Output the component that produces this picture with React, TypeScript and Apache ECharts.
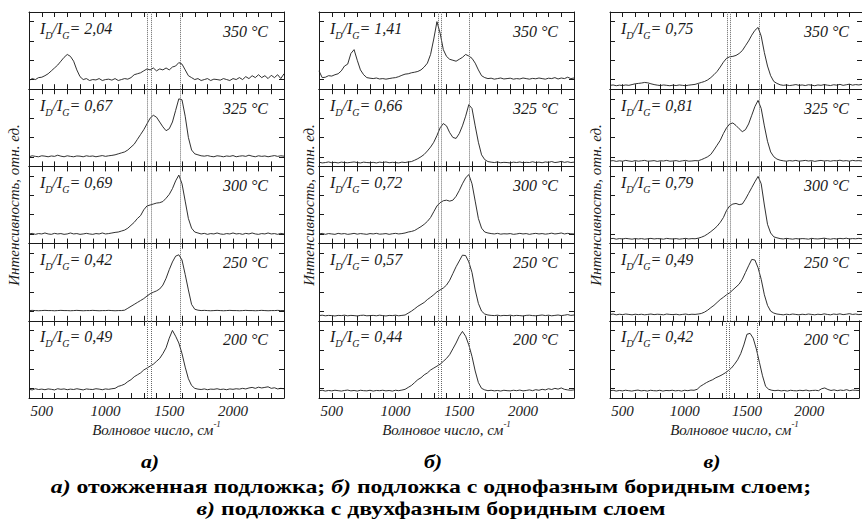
import React, { useEffect, useRef } from 'react';
import * as echarts from 'echarts';

// Raman shift grid, cm^-1
const wavenumbers = [
  400, 425, 450, 475, 500, 525, 550, 575, 600, 625,
  650, 675, 700, 725, 750, 775, 800, 825, 850, 875,
  900, 925, 950, 975, 1000, 1025, 1050, 1075, 1100, 1125,
  1150, 1175, 1200, 1225, 1250, 1275, 1300, 1325, 1350, 1375,
  1400, 1425, 1450, 1475, 1500, 1525, 1550, 1575, 1600, 1625,
  1650, 1675, 1700, 1725, 1750, 1775, 1800, 1825, 1850, 1875,
  1900, 1925, 1950, 1975, 2000, 2025, 2050, 2075, 2100, 2125,
  2150, 2175, 2200, 2225, 2250, 2275, 2300, 2325, 2350, 2375,
  2400,
];

// Column а) — annealed substrate
const a350 = [
  0.45, 0.55, 0.50, 0.60, 0.62, 0.70, 0.80, 0.95, 1.10, 1.25,
  1.45, 1.65, 1.80, 1.70, 1.45, 1.00, 0.65, 0.50, 0.55, 0.45,
  0.50, 0.48, 0.55, 0.45, 0.50, 0.52, 0.47, 0.55, 0.45, 0.50,
  0.55, 0.52, 0.60, 0.75, 0.80, 0.85, 0.95, 1.05, 1.00, 1.10,
  0.95, 1.05, 1.00, 1.10, 1.00, 1.15, 1.20, 1.38, 1.30, 1.00,
  0.70, 0.60, 0.50, 0.55, 0.45, 0.50, 0.55, 0.45, 0.52, 0.50,
  0.47, 0.55, 0.50, 0.45, 0.55, 0.50, 0.60, 0.50, 0.65, 0.55,
  0.70, 0.60, 0.75, 0.60, 0.70, 0.55, 0.72, 0.60, 0.75, 0.55,
  0.80,
];
const a325 = [
  0.50, 0.55, 0.52, 0.50, 0.55, 0.53, 0.50, 0.54, 0.52, 0.58,
  0.53, 0.50, 0.55, 0.52, 0.50, 0.54, 0.53, 0.50, 0.55, 0.52,
  0.54, 0.50, 0.53, 0.56, 0.52, 0.55, 0.57, 0.60, 0.65, 0.70,
  0.75, 0.85, 1.00, 1.15, 1.40, 1.65, 1.90, 2.20, 2.50, 2.65,
  2.55, 2.30, 2.05, 1.85, 1.95, 2.30, 2.90, 3.50, 3.45, 2.60,
  1.50, 0.85, 0.65, 0.60, 0.55, 0.53, 0.56, 0.52, 0.50, 0.55,
  0.53, 0.50, 0.54, 0.52, 0.56, 0.50, 0.53, 0.55, 0.52, 0.58,
  0.53, 0.50, 0.55, 0.52, 0.54, 0.50, 0.53, 0.56, 0.52, 0.55,
  0.53,
];
const a300 = [
  0.50, 0.53, 0.48, 0.52, 0.50, 0.55, 0.50, 0.48, 0.53, 0.50,
  0.52, 0.48, 0.50, 0.55, 0.50, 0.52, 0.48, 0.50, 0.53, 0.50,
  0.48, 0.52, 0.50, 0.55, 0.50, 0.52, 0.55, 0.58, 0.60, 0.65,
  0.70, 0.80, 0.95, 1.10, 1.30, 1.45, 1.75, 1.95, 2.00, 2.05,
  2.10, 2.12, 2.18, 2.35, 2.55, 2.85, 3.25, 3.55, 3.10, 2.20,
  1.30, 0.80, 0.60, 0.55, 0.50, 0.53, 0.48, 0.52, 0.50, 0.55,
  0.50, 0.48, 0.52, 0.50, 0.55, 0.50, 0.52, 0.48, 0.53, 0.50,
  0.55, 0.50, 0.48, 0.52, 0.50, 0.55, 0.50, 0.52, 0.48, 0.53,
  0.50,
];
const a250 = [
  0.53, 0.54, 0.53, 0.52, 0.53, 0.54, 0.53, 0.53, 0.52, 0.53,
  0.54, 0.53, 0.53, 0.52, 0.53, 0.54, 0.53, 0.52, 0.53, 0.53,
  0.54, 0.53, 0.52, 0.53, 0.53, 0.54, 0.53, 0.52, 0.53, 0.53,
  0.55, 0.65, 0.75, 0.85, 0.95, 1.05, 1.15, 1.28, 1.40, 1.48,
  1.55, 1.65, 1.85, 2.20, 2.65, 3.05, 3.35, 3.42, 3.15, 2.40,
  1.60, 0.85, 0.60, 0.55, 0.53, 0.54, 0.53, 0.52, 0.53, 0.54,
  0.53, 0.52, 0.53, 0.54, 0.53, 0.53, 0.52, 0.53, 0.54, 0.53,
  0.53, 0.52, 0.53, 0.54, 0.53, 0.52, 0.53, 0.53, 0.54, 0.53,
  0.53,
];
const a200 = [
  0.45, 0.42, 0.48, 0.44, 0.46, 0.43, 0.47, 0.45, 0.42, 0.48,
  0.45, 0.47, 0.43, 0.46, 0.44, 0.48, 0.45, 0.42, 0.47, 0.45,
  0.44, 0.48, 0.46, 0.43, 0.47, 0.45, 0.48, 0.50, 0.60, 0.65,
  0.72, 0.85, 0.95, 1.10, 1.20, 1.30, 1.45, 1.55, 1.65, 1.75,
  1.90, 2.05, 2.30, 2.60, 3.10, 3.50, 3.20, 2.85, 2.30, 1.60,
  1.00, 0.65, 0.50, 0.46, 0.44, 0.47, 0.43, 0.46, 0.45, 0.48,
  0.44, 0.46, 0.43, 0.47, 0.45, 0.48, 0.46, 0.50, 0.47, 0.52,
  0.55, 0.50, 0.56, 0.52, 0.55, 0.58, 0.50, 0.53, 0.47, 0.50,
  0.48,
];

// Column б) — single-phase boride layer
const b350 = [
  0.95, 0.60, 0.62, 0.70, 0.68, 0.75, 0.80, 0.95, 1.20, 1.30,
  1.85, 2.05, 1.50, 1.00, 0.75, 0.60, 0.57, 0.55, 0.58, 0.53,
  0.55, 0.52, 0.55, 0.58, 0.60, 0.65, 0.72, 0.78, 0.80, 0.85,
  0.88, 0.92, 1.00, 1.15, 1.35, 1.80, 2.60, 3.50, 2.90, 2.05,
  1.70, 1.55, 1.50, 1.45, 1.55, 1.65, 1.80, 1.72, 1.60, 1.35,
  1.00, 0.70, 0.60, 0.55, 0.57, 0.52, 0.55, 0.58, 0.53, 0.55,
  0.57, 0.52, 0.55, 0.53, 0.58, 0.55, 0.52, 0.56, 0.54, 0.58,
  0.55, 0.52, 0.57, 0.55, 0.60, 0.53, 0.58, 0.55, 0.62, 0.55,
  0.58,
];
const b325 = [
  0.22, 0.18, 0.20, 0.23, 0.19, 0.21, 0.18, 0.22, 0.20, 0.19,
  0.21, 0.23, 0.20, 0.18, 0.22, 0.20, 0.19, 0.21, 0.18, 0.22,
  0.20, 0.23, 0.19, 0.21, 0.20, 0.18, 0.22, 0.20, 0.23, 0.25,
  0.32, 0.40, 0.50, 0.62, 0.80, 1.00, 1.25, 1.60, 2.00, 2.22,
  2.10, 1.75, 1.50, 1.45, 1.70, 2.10, 2.60, 3.20, 3.00, 2.10,
  1.25, 0.60, 0.35, 0.25, 0.22, 0.20, 0.23, 0.19, 0.21, 0.20,
  0.18, 0.22, 0.20, 0.23, 0.19, 0.21, 0.20, 0.24, 0.20, 0.22,
  0.19, 0.23, 0.21, 0.25, 0.20, 0.22, 0.26, 0.21, 0.24, 0.20,
  0.22,
];
const b300 = [
  0.50, 0.53, 0.48, 0.52, 0.50, 0.48, 0.53, 0.50, 0.52, 0.48,
  0.50, 0.53, 0.49, 0.52, 0.50, 0.48, 0.52, 0.50, 0.53, 0.49,
  0.50, 0.52, 0.48, 0.51, 0.53, 0.50, 0.52, 0.55, 0.60, 0.63,
  0.68, 0.78, 0.88, 1.00, 1.15, 1.35, 1.65, 1.95, 2.12, 2.22,
  2.25, 2.20, 2.25, 2.45, 2.75, 3.10, 3.40, 3.58, 3.10, 2.20,
  1.30, 0.80, 0.60, 0.55, 0.52, 0.50, 0.53, 0.49, 0.51, 0.50,
  0.52, 0.48, 0.50, 0.53, 0.50, 0.52, 0.48, 0.51, 0.53, 0.50,
  0.52, 0.49, 0.51, 0.54, 0.50, 0.52, 0.55, 0.50, 0.53, 0.51,
  0.50,
];
const b250 = [
  0.27, 0.29, 0.26, 0.28, 0.27, 0.25, 0.28, 0.27, 0.29, 0.26,
  0.28, 0.27, 0.25, 0.28, 0.29, 0.26, 0.27, 0.28, 0.26, 0.29,
  0.27, 0.25, 0.28, 0.27, 0.29, 0.26, 0.28, 0.30, 0.40, 0.50,
  0.62, 0.75, 0.85, 0.95, 1.10, 1.22, 1.35, 1.50, 1.60, 1.70,
  1.85, 2.10, 2.45, 2.80, 3.10, 3.40, 3.38, 3.05, 2.50, 1.60,
  0.90, 0.50, 0.35, 0.30, 0.28, 0.27, 0.29, 0.26, 0.28, 0.27,
  0.29, 0.26, 0.28, 0.27, 0.25, 0.28, 0.29, 0.27, 0.26, 0.28,
  0.30, 0.27, 0.29, 0.26, 0.28, 0.30, 0.27, 0.29, 0.32, 0.28,
  0.30,
];
const b200 = [
  0.38, 0.40, 0.36, 0.39, 0.37, 0.40, 0.38, 0.36, 0.39, 0.41,
  0.37, 0.39, 0.36, 0.40, 0.38, 0.37, 0.40, 0.36, 0.39, 0.38,
  0.40, 0.37, 0.39, 0.36, 0.40, 0.38, 0.41, 0.45, 0.55, 0.65,
  0.80, 0.95, 1.05, 1.20, 1.30, 1.45, 1.55, 1.65, 1.75, 1.90,
  2.05, 2.25, 2.55, 2.85, 3.20, 3.45, 3.20, 2.75, 2.15, 1.40,
  0.80, 0.50, 0.42, 0.38, 0.40, 0.37, 0.39, 0.36, 0.40, 0.38,
  0.37, 0.40, 0.38, 0.41, 0.37, 0.39, 0.42, 0.38, 0.43, 0.40,
  0.45, 0.42, 0.48, 0.44, 0.50, 0.46, 0.52, 0.45, 0.42, 0.40,
  0.42,
];

// Column в) — two-phase boride layer
const c350 = [
  0.20, 0.22, 0.18, 0.21, 0.19, 0.22, 0.20, 0.24, 0.28, 0.30,
  0.32, 0.35, 0.33, 0.28, 0.24, 0.21, 0.19, 0.22, 0.20, 0.18,
  0.21, 0.19, 0.22, 0.20, 0.18, 0.21, 0.23, 0.25, 0.30, 0.35,
  0.40, 0.48, 0.60, 0.75, 0.92, 1.15, 1.40, 1.60, 1.68, 1.70,
  1.75, 1.85, 2.00, 2.25, 2.50, 2.80, 3.05, 3.20, 2.75, 1.90,
  1.20, 0.70, 0.40, 0.30, 0.23, 0.20, 0.22, 0.19, 0.21, 0.24,
  0.20, 0.22, 0.19, 0.23, 0.21, 0.18, 0.22, 0.20, 0.24, 0.21,
  0.19, 0.23, 0.21, 0.25, 0.20, 0.23, 0.26, 0.21, 0.24, 0.22,
  0.25,
];
const c325 = [
  0.28, 0.30, 0.26, 0.29, 0.27, 0.31, 0.28, 0.26, 0.30, 0.27,
  0.29, 0.31, 0.27, 0.28, 0.30, 0.26, 0.29, 0.28, 0.31, 0.27,
  0.28, 0.30, 0.26, 0.29, 0.31, 0.27, 0.28, 0.30, 0.29, 0.35,
  0.42, 0.50, 0.62, 0.85, 1.10, 1.35, 1.70, 2.00, 2.20, 2.25,
  2.12, 1.95, 1.80, 1.90, 2.20, 2.65, 3.10, 3.42, 3.00, 2.10,
  1.30, 0.75, 0.50, 0.38, 0.32, 0.29, 0.27, 0.30, 0.28, 0.31,
  0.27, 0.29, 0.31, 0.28, 0.30, 0.26, 0.29, 0.31, 0.28, 0.30,
  0.27, 0.30, 0.29, 0.32, 0.28, 0.30, 0.27, 0.31, 0.29, 0.30,
  0.28,
];
const c300 = [
  0.25, 0.27, 0.23, 0.26, 0.24, 0.27, 0.25, 0.23, 0.26, 0.24,
  0.26, 0.23, 0.25, 0.27, 0.24, 0.26, 0.25, 0.23, 0.27, 0.25,
  0.24, 0.26, 0.23, 0.25, 0.27, 0.24, 0.26, 0.25, 0.28, 0.33,
  0.40, 0.50, 0.62, 0.75, 0.90, 1.10, 1.35, 1.72, 1.95, 2.05,
  2.08, 2.02, 2.05, 2.30, 2.60, 2.90, 3.20, 3.48, 3.10, 2.00,
  1.00, 0.55, 0.35, 0.30, 0.26, 0.24, 0.27, 0.25, 0.23, 0.26,
  0.24, 0.26, 0.25, 0.23, 0.27, 0.25, 0.24, 0.26, 0.28, 0.25,
  0.23, 0.26, 0.24, 0.27, 0.25, 0.28, 0.24, 0.26, 0.25, 0.27,
  0.25,
];
const c250 = [
  0.33, 0.35, 0.31, 0.34, 0.32, 0.35, 0.33, 0.31, 0.34, 0.32,
  0.34, 0.31, 0.33, 0.35, 0.32, 0.34, 0.33, 0.31, 0.35, 0.33,
  0.32, 0.34, 0.31, 0.33, 0.35, 0.32, 0.34, 0.33, 0.35, 0.38,
  0.45, 0.55, 0.68, 0.80, 0.95, 1.10, 1.22, 1.35, 1.45, 1.60,
  1.75, 1.90, 2.15, 2.50, 2.85, 3.18, 3.15, 2.75, 2.15, 1.35,
  0.80, 0.50, 0.40, 0.35, 0.33, 0.31, 0.34, 0.32, 0.35, 0.33,
  0.31, 0.34, 0.32, 0.35, 0.33, 0.31, 0.34, 0.32, 0.36, 0.33,
  0.31, 0.35, 0.33, 0.36, 0.32, 0.34, 0.37, 0.33, 0.35, 0.32,
  0.34,
];
const c200 = [
  0.38, 0.40, 0.36, 0.39, 0.37, 0.40, 0.38, 0.36, 0.39, 0.41,
  0.37, 0.39, 0.36, 0.40, 0.38, 0.37, 0.40, 0.36, 0.39, 0.38,
  0.40, 0.37, 0.39, 0.36, 0.40, 0.38, 0.41, 0.40, 0.45, 0.60,
  0.70, 0.80, 0.88, 0.95, 1.05, 1.12, 1.20, 1.30, 1.42, 1.55,
  1.75, 1.98, 2.30, 2.75, 3.30, 3.35, 3.10, 2.55, 1.85, 1.15,
  0.60, 0.45, 0.40, 0.38, 0.40, 0.37, 0.39, 0.36, 0.40, 0.38,
  0.37, 0.40, 0.38, 0.41, 0.37, 0.39, 0.40, 0.38, 0.48, 0.52,
  0.44, 0.39, 0.42, 0.38, 0.41, 0.39, 0.43, 0.38, 0.41, 0.40,
  0.39,
];

const temperatures = ['350 °C', '325 °C', '300 °C', '250 °C', '200 °C'];
const ratiosA = ['2,04', '0,67', '0,69', '0,42', '0,49'];
const ratiosB = ['1,41', '0,66', '0,72', '0,57', '0,44'];
const ratiosC = ['0,75', '0,81', '0,79', '0,49', '0,42'];
// D and G reference positions (vertical dotted lines), cm^-1
const linesA = [1325, 1355, 1585];
const linesB = [1338, 1360, 1578];
const linesC = [1333, 1358, 1582];
const xTickLabels = [500, 1000, 1500, 2000];
const yTickValues = [0.5, 1.5, 2.5, 3.5];
const panelLabels = ['а)', 'б)', 'в)'];

const columns = [
  { series: [a350, a325, a300, a250, a200], ratios: ratiosA, lines: linesA },
  { series: [b350, b325, b300, b250, b200], ratios: ratiosB, lines: linesB },
  { series: [c350, c325, c300, c250, c200], ratios: ratiosC, lines: linesC },
];

// layout
const COL_LEFT = [29, 319, 610];
const COL_W = 255;
const TOP = 12;
const ROW_H = 77.2;
const YNAME_GAP = [8, 3, 7];
const SERIF = 'Liberation Serif';
const INK = '#1a1a1a';

function buildOption() {
  const grid: any[] = [];
  const xAxis: any[] = [];
  const yAxis: any[] = [];
  const series: any[] = [];
  const graphic: any[] = [];

  const lineStyle = { color: INK, width: 1 };
  const tickLine = { color: INK, width: 1 };

  columns.forEach((col, c) => {
    col.series.forEach((vals, r) => {
      const g = c * 5 + r;
      const top = TOP + r * ROW_H;
      grid.push({ left: COL_LEFT[c], top, width: COL_W, height: ROW_H, show: false });
      const isBottom = r === 4;
      const baseX = {
        type: 'value',
        gridIndex: g,
        min: 400,
        max: 2400,
        interval: 100,
        axisLine: { show: true, onZero: false, lineStyle },
        splitLine: { show: false },
        axisTick: { show: true, inside: true, length: 5, lineStyle: tickLine },
      };
      xAxis.push({
        ...baseX,
        position: 'bottom',
        axisLabel: {
          show: isBottom,
          margin: 5,
          fontFamily: SERIF,
          fontStyle: 'italic',
          fontSize: 15,
          color: INK,
          formatter: (v: number) => (xTickLabels.includes(v) ? String(v) : ''),
        },
        name: isBottom ? '{t|Волновое число, см}{s|-1}' : '',
        nameLocation: 'middle',
        nameGap: 21,
        nameTextStyle: {
          fontFamily: SERIF,
          rich: {
            t: { fontFamily: SERIF, fontStyle: 'italic', fontSize: 15, color: INK, lineHeight: 18, verticalAlign: 'bottom' },
            s: { fontFamily: SERIF, fontStyle: 'italic', fontSize: 9, color: INK, lineHeight: 10, verticalAlign: 'top' },
          },
        },
      });
      xAxis.push({ ...baseX, position: 'top', axisLabel: { show: false } });
      const baseY = {
        type: 'value',
        gridIndex: g,
        min: 0,
        max: 4,
        interval: 1,
        axisLine: { show: true, onZero: false, lineStyle },
        splitLine: { show: false },
        axisLabel: { show: false },
        axisTick: { show: true, inside: true, length: 5, lineStyle: tickLine, customValues: yTickValues },
      };
      yAxis.push({
        ...baseY,
        position: 'left',
        name: r === 2 ? 'Интенсивность, отн. ед.' : '',
        nameLocation: 'middle',
        nameGap: YNAME_GAP[c],
        nameTextStyle: { fontFamily: SERIF, fontStyle: 'italic', fontSize: 15, color: INK },
      });
      yAxis.push({ ...baseY, position: 'right' });

      series.push({
        type: 'line',
        xAxisIndex: 2 * g,
        yAxisIndex: 2 * g,
        data: wavenumbers.map((w, i) => [w, vals[i]]),
        showSymbol: false,
        symbol: 'none',
        lineStyle: { color: INK, width: 0.9 },
        silent: true,
        markLine: {
          silent: true,
          symbol: ['none', 'none'],
          label: { show: false },
          lineStyle: { type: 'dotted', color: '#666', width: 1 },
          data: col.lines.map((v) => ({ xAxis: v })),
        },
      });

      graphic.push({
        type: 'text',
        x: COL_LEFT[c] + 11,
        y: top + 18,
        silent: true,
        style: {
          text: `{m|I}{s|D}{m|/I}{s|G}{m|= ${col.ratios[r]}}`,
          verticalAlign: 'middle',
          align: 'left',
          fontFamily: SERIF,
          rich: {
            m: { fontFamily: SERIF, fontStyle: 'italic', fontSize: 16, fill: INK, lineHeight: 20, verticalAlign: 'top' },
            s: { fontFamily: SERIF, fontStyle: 'italic', fontSize: 10, fill: INK, lineHeight: 10, verticalAlign: 'bottom' },
          },
        },
      });
      graphic.push({
        type: 'text',
        x: COL_LEFT[c] + COL_W - 16,
        y: top + 19,
        silent: true,
        style: {
          text: temperatures[r],
          align: 'right',
          verticalAlign: 'middle',
          fontFamily: SERIF,
          fontStyle: 'italic',
          fontSize: 16,
          fill: INK,
        },
      });
    });
  });

  const labelX = [150, 433, 712];
  panelLabels.forEach((t, i) => {
    graphic.push({
      type: 'text',
      x: labelX[i],
      y: 462,
      scaleX: 1.15,
      silent: true,
      style: {
        text: t,
        align: 'center',
        verticalAlign: 'middle',
        fontFamily: SERIF,
        fontStyle: 'italic',
        fontWeight: 'bold',
        fontSize: 19,
        fill: '#000',
      },
    });
  });
  const capRich = {
    bi: { fontFamily: SERIF, fontStyle: 'italic', fontWeight: 'bold', fontSize: 19, fill: '#000' },
    b: { fontFamily: SERIF, fontWeight: 'bold', fontSize: 19, fill: '#000' },
  };
  graphic.push({
    type: 'text',
    x: 431,
    y: 487,
    scaleX: 1.25,
    silent: true,
    style: {
      text: '{bi|а)}{b| отожженная подложка; }{bi|б)}{b| подложка с однофазным боридным слоем;}',
      align: 'center',
      verticalAlign: 'middle',
      fontFamily: SERIF,
      rich: capRich,
    },
  });
  graphic.push({
    type: 'text',
    x: 431,
    y: 509,
    scaleX: 1.25,
    silent: true,
    style: {
      text: '{bi|в)}{b| подложка с двухфазным боридным слоем}',
      align: 'center',
      verticalAlign: 'middle',
      fontFamily: SERIF,
      rich: capRich,
    },
  });

  return {
    animation: false,
    backgroundColor: '#ffffff',
    grid,
    xAxis,
    yAxis,
    series,
    graphic,
  };
}

export default function App() {
  const ref = useRef<HTMLDivElement>(null);
  useEffect(() => {
    if (!ref.current) return;
    const chart = echarts.init(ref.current, undefined, { renderer: 'svg' });
    chart.setOption(buildOption() as any);
    return () => chart.dispose();
  }, []);
  return (
    <div
      ref={ref}
      style={{ position: 'absolute', left: 0, top: 0, width: 862, height: 529, background: '#fff' }}
    />
  );
}
